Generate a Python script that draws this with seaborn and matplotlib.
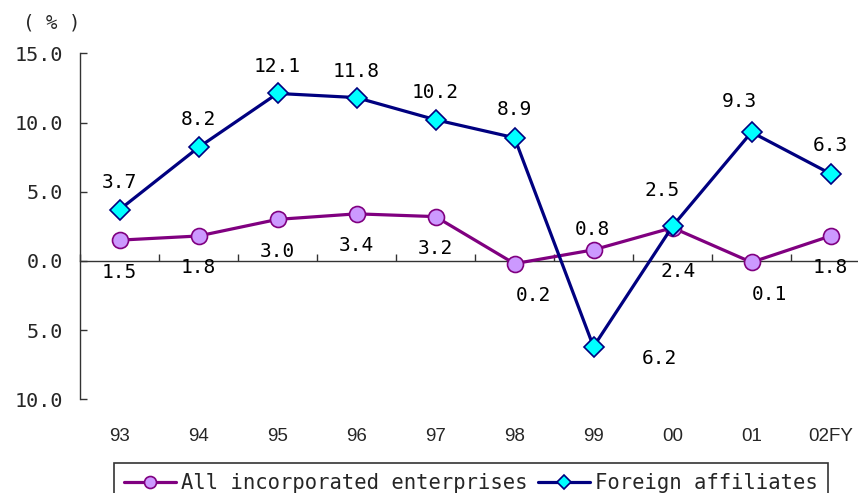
import numpy as np
import pandas as pd
import matplotlib
matplotlib.use("Agg")
import matplotlib.pyplot as plt
import seaborn as sns

# Fiscal years on the category axis
years = ["93", "94", "95", "96", "97", "98", "99", "00", "01", "02FY"]

# Ordinary-profit growth rates (%)
all_incorporated = [1.5, 1.8, 3.0, 3.4, 3.2, -0.2, 0.8, 2.4, -0.1, 1.8]
foreign_affiliates = [3.7, 8.2, 12.1, 11.8, 10.2, 8.9, -6.2, 2.5, 9.3, 6.3]

# Value-label offsets in pixels (dx, dy)
all_label_offsets = [(0, -32), (0, -32), (0, -32), (0, -32), (0, -32),
                     (19, -32), (-1, 20), (6, -44), (18, -32), (0, -32)]
foreign_label_offsets = [(0, 27), (0, 28), (0, 27), (0, 26), (0, 27),
                         (0, 28), (66, -12), (-10, 36), (-12, 31), (0, 28)]

y_ticks = [-10, -5, 0, 5, 10, 15]
y_tick_labels = ["10.0", "5.0", "0.0", "5.0", "10.0", "15.0"]

series_names = ["All incorporated enterprises", "Foreign affiliates"]

MONO = ["DejaVu Sans Mono"]
SANS = ["Liberation Sans", "DejaVu Sans"]

sns.set_theme(style="white")
plt.rcParams["font.family"] = MONO

df = pd.DataFrame({
    "pos": np.tile(np.arange(len(years)), 2),
    "value": all_incorporated + foreign_affiliates,
    "series": np.repeat(series_names, len(years)),
})

fig = plt.figure(figsize=(8.58, 4.93), dpi=100)
ax = fig.add_axes([80 / 858, 1 - 399.3 / 493, 790 / 858, 346 / 493])

purple = "#800080"
navy = "#000080"

sns.lineplot(data=df[df.series == series_names[0]], x="pos", y="value",
             ax=ax, color=purple, lw=2.3, marker="o", ms=11.5,
             markerfacecolor="#CC99FF", markeredgecolor=purple,
             markeredgewidth=1.2, label=series_names[0], zorder=3)
sns.lineplot(data=df[df.series == series_names[1]], x="pos", y="value",
             ax=ax, color=navy, lw=2.3, marker="D", ms=10,
             markerfacecolor="#00FFFF", markeredgecolor=navy,
             markeredgewidth=1.2, label=series_names[1], zorder=4)

ax.set_xlim(-0.5, len(years) - 0.5)
ax.set_ylim(-10, 15)
ax.set_xlabel("")
ax.set_ylabel("")

# value labels (signs are not printed)
for i, (v, off) in enumerate(zip(all_incorporated, all_label_offsets)):
    ax.annotate(f"{abs(v):.1f}", (i, v), xytext=off,
                textcoords="offset pixels", ha="center", va="center",
                fontsize=14, color="black", zorder=5)
for i, (v, off) in enumerate(zip(foreign_affiliates, foreign_label_offsets)):
    ax.annotate(f"{abs(v):.1f}", (i, v), xytext=off,
                textcoords="offset pixels", ha="center", va="center",
                fontsize=14, color="black", zorder=5)

# spines: left axis only, the category axis sits on the zero line
axis_color = "#333333"
for side in ["top", "right", "bottom"]:
    ax.spines[side].set_visible(False)
ax.spines["left"].set_color(axis_color)
ax.spines["left"].set_linewidth(1.0)

ax.set_yticks(y_ticks)
ax.set_yticklabels(y_tick_labels, fontsize=14.5)
ax.tick_params(axis="y", direction="in", length=5, width=1.0,
               color=axis_color, pad=12, left=True)

ax.set_xticks(np.arange(len(years)))
ax.set_xticklabels(years, fontsize=13.5, family=SANS)
ax.tick_params(axis="x", length=0, pad=21)

zero_frac = (0 - (-10)) / 25
sec = ax.secondary_xaxis(zero_frac)
sec.set_xticks(np.arange(len(years) + 1) - 0.5)
sec.set_xticklabels([])
sec.tick_params(axis="x", direction="in", length=5, width=1.0,
                color=axis_color)
sec.spines["bottom"].set_color(axis_color)
sec.spines["bottom"].set_linewidth(1.0)

ax.grid(False)

fig.text(52 / 858, 1 - 23 / 493, "( % )",
         ha="center", va="center", fontsize=13.7)

leg = ax.legend(loc="upper left", bbox_to_anchor=(114 / 858, 1 - 463 / 493),
                bbox_transform=fig.transFigure, ncol=2, fontsize=14.8,
                frameon=True, fancybox=False, edgecolor="black",
                handlelength=2.55, handletextpad=0.24, columnspacing=0.5,
                borderpad=0.48, borderaxespad=0, markerscale=0.75)
leg.get_frame().set_linewidth(1.2)

fig.savefig("out.png", dpi=100)
